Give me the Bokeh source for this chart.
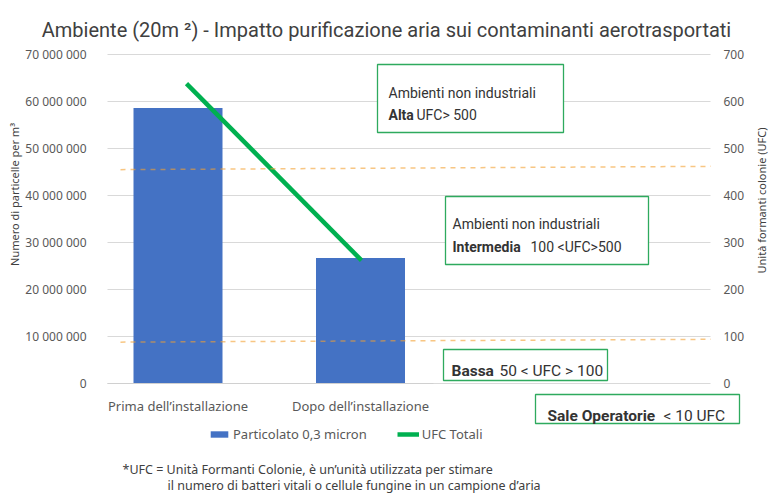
import math
from bokeh.plotting import figure
from bokeh.models import (Range1d, LinearAxis, FixedTicker, Label, BoxAnnotation,
                          Legend, LegendItem)
from bokeh.embed import file_html
from bokeh.resources import INLINE

# ---------------- data ----------------
categorie = ["Prima dell\u2019installazione", "Dopo dell\u2019installazione"]
particolato = [58_600_000, 26_700_000]          # Particolato 0,3 micron (left axis)
ufc_totali = [638, 262]                          # UFC Totali (right axis)
tick_particelle = [0, 10_000_000, 20_000_000, 30_000_000, 40_000_000,
                   50_000_000, 60_000_000, 70_000_000]
tick_ufc = [0, 100, 200, 300, 400, 500, 600, 700]
soglie_ufc_inizio = [455, 88]                    # dashed reference lines (UFC), left end
soglie_ufc_fine = [462, 94]                      # dashed reference lines (UFC), right end

titolo = "Ambiente (20m \u00b2) - Impatto purificazione aria sui contaminanti aerotrasportati"
nota_1 = "*UFC = Unit\u00e0 Formanti Colonie, \u00e8 un\u2019unit\u00e0 utilizzata per stimare"
nota_2 = "il numero di batteri vitali o cellule fungine in un campione d\u2019aria"

# ---------------- layout / styles ----------------
W, H = 768, 493
NARROW = "Roboto"
SANS = "Noto Sans"
GRAY = "#595959"
DARK = "#404040"
GREEN_BOX = "#2EAA5E"

# frame covers the whole canvas; axes sit at fixed locations
X_LEFT, X_RIGHT = -0.38630, 2.91781        # plot-area edges in category units
p = figure(width=W, height=H, min_border=0,
           x_range=Range1d(-0.97260, 3.23562),
           y_range=Range1d(-23_404_000, 81_489_000),
           output_backend="svg", toolbar_location=None)
p.outline_line_color = None
p.background_fill_color = "white"
p.border_fill_color = "white"
p.extra_x_ranges = {"linea": Range1d(-1.06286, 3.32571)}
p.extra_y_ranges = {"ufc": Range1d(-234.04, 814.89)}

# grid (horizontal only, limited to the plot area)
p.xgrid.visible = False
p.ygrid.ticker = FixedTicker(ticks=tick_particelle)
p.ygrid.grid_line_color = "#D9D9D9"
p.ygrid.grid_line_width = 1
p.ygrid.bounds = (tick_particelle[0], tick_particelle[-1])
p.ygrid.cross_bounds = (X_LEFT, X_RIGHT)

idx = list(range(len(categorie)))

# bottom axis
xa = p.xaxis[0]
xa.fixed_location = 0
xa.ticker = FixedTicker(ticks=idx)
xa.major_label_overrides = {i: c for i, c in zip(idx, categorie)}
xa.bounds = (X_LEFT, 1.4)
xa.axis_line_color = "#D0D0D0"
xa.major_tick_line_color = None
xa.minor_tick_line_color = None
xa.major_label_standoff = 7
xa.major_label_text_font = SANS
xa.major_label_text_font_size = "13px"
xa.major_label_text_color = GRAY

# left axis
ya = p.yaxis[0]
ya.fixed_location = X_LEFT
ya.ticker = FixedTicker(ticks=tick_particelle)
ya.major_label_overrides = {t: f"{t:,}".replace(",", " ") for t in tick_particelle}
ya.axis_line_color = None
ya.major_tick_line_color = None
ya.minor_tick_line_color = None
ya.major_label_standoff = 15
ya.major_label_text_font = SANS
ya.major_label_text_font_size = "12px"
ya.major_label_text_color = GRAY

# right axis
ra = LinearAxis(y_range_name="ufc", ticker=FixedTicker(ticks=tick_ufc),
                fixed_location=X_RIGHT)
ra.axis_line_color = None
ra.major_tick_line_color = None
ra.minor_tick_line_color = None
ra.major_label_standoff = 7
ra.major_label_text_font = SANS
ra.major_label_text_font_size = "12px"
ra.major_label_text_color = GRAY
p.add_layout(ra, "right")

# bars and line
barre = p.vbar(x=idx, top=particolato, width=0.4877, fill_color="#4472C4", line_color=None)
linea = p.line(x=idx, y=ufc_totali, x_range_name="linea", y_range_name="ufc",
               line_color="#00B050", line_width=4.5)

# dashed reference lines
n = len(soglie_ufc_inizio)
p.segment(x0=[-0.3151] * n, y0=soglie_ufc_inizio, x1=[2.92] * n, y1=soglie_ufc_fine,
          y_range_name="ufc", line_color="#F4A030", line_alpha=0.6, line_width=1.5,
          line_dash="5 5")

# legend
legend = Legend(items=[LegendItem(label="Particolato 0,3 micron", renderers=[barre]),
                       LegendItem(label="UFC Totali", renderers=[linea])],
                location=(208, 50), orientation="horizontal",
                glyph_width=22, glyph_height=8, label_height=8, label_standoff=3,
                spacing=30, padding=0, margin=0, border_line_color=None,
                background_fill_alpha=0, label_text_font=SANS,
                label_text_font_size="13px", label_text_color=GRAY)
p.add_layout(legend)


def lab(x, y, text, size="14px", bold=False, font=NARROW, color="#333333",
        align="left", baseline="alphabetic", angle=0.0):
    p.add_layout(Label(x=x, y=y, x_units="screen", y_units="screen", text=text,
                       text_font=font, text_font_size=size,
                       text_font_style="bold" if bold else "normal",
                       text_color=color, text_align=align, text_baseline=baseline,
                       angle=angle))


def box(left, right, top, bottom):
    p.add_layout(BoxAnnotation(left=left, right=right, top=top, bottom=bottom,
                               left_units="screen", right_units="screen",
                               top_units="screen", bottom_units="screen",
                               fill_color="white", fill_alpha=1.0,
                               line_color=GREEN_BOX, line_width=1.3, line_alpha=1.0))


# title
lab(386, 464, titolo, size="20px", color=DARK, align="center", font="Roboto")

# axis titles
lab(14, 299, "Numero di particelle per m\u00b3", size="11px", font=SANS, color=DARK,
    align="center", baseline="middle", angle=math.pi / 2)
lab(761, 293, "Unit\u00e0 formanti colonie (UFC)", size="11px", font=SANS, color=DARK,
    align="center", baseline="middle", angle=math.pi / 2)

# annotation boxes
box(377, 563, 429, 361)
lab(388, 401, "Ambienti non industriali")
lab(388, 379, "Alta", bold=True)
lab(416, 379, "UFC> 500")

box(445, 648, 297, 229)
lab(452, 270, "Ambienti non industriali")
lab(452, 247, "Intermedia", bold=True)
lab(530, 247, "100 <UFC>500")

box(443, 607, 144, 113)
lab(451, 123, "Bassa", size="15.5px", bold=True)
lab(499, 123, "50 < UFC > 100", size="15.5px")

box(535, 739, 99, 70)
lab(547, 78, "Sale Operatorie", size="15.5px", bold=True)
lab(663, 78, "< 10 UFC", size="15.5px")

# footnote
lab(122, 24, nota_1, size="12.5px", font=SANS, color=DARK)
lab(167, 8, nota_2, size="12.5px", font=SANS, color=DARK)

open("out.html", "w").write(file_html(p, INLINE))
